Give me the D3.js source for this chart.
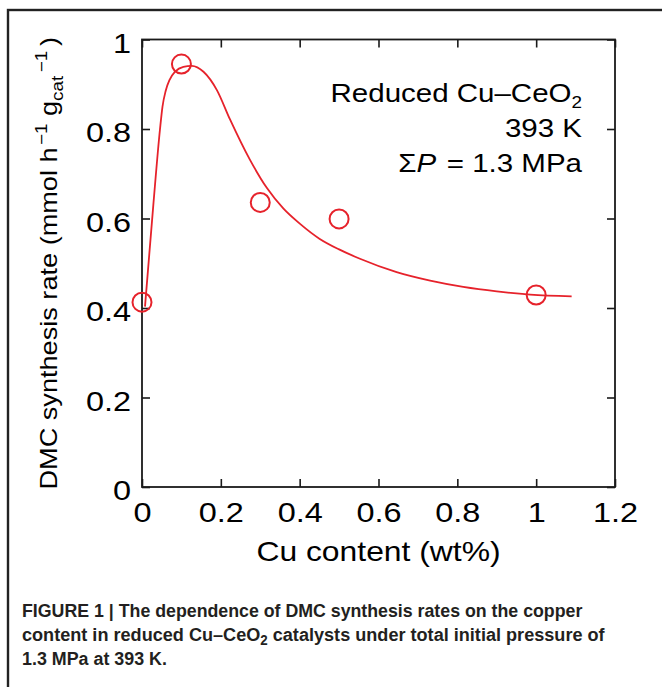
<!DOCTYPE html>
<html><head><meta charset="utf-8">
<script src="https://cdn.jsdelivr.net/npm/d3@7"></script>
<style>
html,body{margin:0;padding:0;background:#fff;}
svg{display:block;}
text{font-family:"Liberation Sans",Arial,Helvetica,sans-serif;}
</style></head>
<body>
<svg id="chart" width="662" height="687"></svg>
<script>
// ---- data ----
const xTicks = [0, 0.2, 0.4, 0.6, 0.8, 1, 1.2];
const xTickLabels = ["0", "0.2", "0.4", "0.6", "0.8", "1", "1.2"];
const yTicks = [0, 0.2, 0.4, 0.6, 0.8, 1];
const yTickLabels = ["0", "0.2", "0.4", "0.6", "0.8", "1"];
const cuContent = [0, 0.1, 0.3, 0.5, 1.0];
const dmcRate = [0.413, 0.945, 0.636, 0.599, 0.429];
const fitCu = [0.0076, 0.0287, 0.0457, 0.052, 0.06, 0.07, 0.084, 0.105, 0.126, 0.156, 0.19, 0.223, 0.274, 0.317, 0.359, 0.401, 0.45, 0.5, 0.553, 0.646, 0.731, 0.815, 0.9, 0.985, 1.09];
const fitRate = [0.403, 0.630, 0.800, 0.850, 0.885, 0.910, 0.928, 0.939, 0.941, 0.928, 0.887, 0.822, 0.731, 0.668, 0.622, 0.588, 0.555, 0.531, 0.510, 0.480, 0.461, 0.447, 0.437, 0.430, 0.426];
const annotation = ["Reduced Cu–CeO", "393 K", "= 1.3 MPa"];
const captionLines = [
  "FIGURE 1 | The dependence of DMC synthesis rates on the copper",
  ["content in reduced Cu–CeO", "2", " catalysts under total initial pressure of"],
  "1.3 MPa at 393 K."
];

const RED = "#e6222b";
const INK = "#1a1a1a";
const SX = 1.18; // horizontal stretch of the original lettering

const svg = d3.select("#chart");

// outer frame (cropped at right and bottom)
svg.append("rect").attr("x", 8).attr("y", 10).attr("width", 720).attr("height", 720)
  .attr("fill", "none").attr("stroke", "#222").attr("stroke-width", 2.4);

const x = d3.scaleLinear().domain([0, 1.2]).range([142, 615]);
const y = d3.scaleLinear().domain([0, 1]).range([487, 39.5]);

const tick = 8;
// axes
const gB = svg.append("g").attr("transform", `translate(0,${y(0)})`)
  .call(d3.axisBottom(x).tickValues(xTicks).tickFormat((d, i) => xTickLabels[i]).tickSizeInner(-tick).tickSizeOuter(0));
const gT = svg.append("g").attr("transform", `translate(0,${y(1)})`)
  .call(d3.axisTop(x).tickValues(xTicks).tickFormat("").tickSizeInner(-tick).tickSizeOuter(0));
const gL = svg.append("g").attr("transform", `translate(${x(0)},0)`)
  .call(d3.axisLeft(y).tickValues(yTicks).tickFormat((d, i) => yTickLabels[i]).tickSizeInner(-tick).tickSizeOuter(0));
const gR = svg.append("g").attr("transform", `translate(${x(1.2)},0)`)
  .call(d3.axisRight(y).tickValues(yTicks).tickFormat("").tickSizeInner(-tick).tickSizeOuter(0));

[gB, gT, gL, gR].forEach(g => {
  g.select(".domain").remove();
  g.selectAll(".tick line").attr("stroke", INK).attr("stroke-width", 1.6);
});
gB.selectAll(".tick text")
  .attr("font-size", 27.5).attr("fill", "#000").attr("font-family", "'Liberation Sans',Arial,sans-serif")
  .attr("y", 35).attr("dy", 0).attr("text-anchor", "middle")
  .attr("transform", `scale(${SX},1)`);
gL.selectAll(".tick text")
  .attr("font-size", 27.5).attr("fill", "#000").attr("font-family", "'Liberation Sans',Arial,sans-serif")
  .attr("x", -11 / SX).attr("dy", 0).attr("y", 12.5).attr("text-anchor", "end")
  .attr("transform", `scale(${SX},1)`);
gT.selectAll(".tick text").remove();
gR.selectAll(".tick text").remove();

// plot box
svg.append("rect").attr("x", x(0)).attr("y", y(1))
  .attr("width", x(1.2) - x(0)).attr("height", y(0) - y(1))
  .attr("fill", "none").attr("stroke", INK).attr("stroke-width", 1.8);

// fitted curve
const fit = fitCu.map((c, i) => [c, fitRate[i]]);
svg.append("path").datum(fit)
  .attr("d", d3.line().x(d => x(d[0])).y(d => y(d[1])).curve(d3.curveMonotoneX))
  .attr("fill", "none").attr("stroke", RED).attr("stroke-width", 1.8);

// data points
svg.selectAll("circle.pt").data(cuContent.map((c, i) => [c, dmcRate[i]])).join("circle")
  .attr("class", "pt").attr("cx", d => x(d[0])).attr("cy", d => y(d[1])).attr("r", 9.5)
  .attr("fill", "none").attr("stroke", RED).attr("stroke-width", 2);

// axis titles
const xt = svg.append("g").attr("transform", `translate(${(x(0) + x(1.2)) / 2},561) scale(${SX},1)`);
xt.append("text").attr("text-anchor", "middle").attr("font-size", 27).attr("fill", "#000")
  .text("Cu content (wt%)");

const yt = svg.append("g").attr("transform", `translate(57,${(y(0) + y(1)) / 2}) rotate(-90) scale(${SX},1)`);
const ytt = yt.append("text").attr("text-anchor", "middle").attr("font-size", 23).attr("fill", "#000");
ytt.append("tspan").text("DMC synthesis rate (mmol h");
ytt.append("tspan").attr("font-size", 16).attr("dy", -10).attr("dx", 2).text("−1");
ytt.append("tspan").attr("dy", 10).text(" g");
ytt.append("tspan").attr("font-size", 16).attr("dy", 6).text("cat");
ytt.append("tspan").attr("font-size", 16).attr("dy", -16).attr("dx", 3).text("−1");
ytt.append("tspan").attr("dy", 10).attr("dx", 4).text(")");

// annotation
const ann = [102, 137, 172];
const AF = 25;
const a1 = svg.append("g").attr("transform", `translate(582,${ann[0]}) scale(${SX},1)`)
  .append("text").attr("text-anchor", "end").attr("font-size", AF).attr("fill", "#000");
a1.append("tspan").text(annotation[0]);
a1.append("tspan").attr("font-size", 16).attr("dy", 6).text("2");
svg.append("g").attr("transform", `translate(582,${ann[1]}) scale(${SX},1)`)
  .append("text").attr("text-anchor", "end").attr("font-size", AF).attr("fill", "#000").text(annotation[1]);
const a3 = svg.append("g").attr("transform", `translate(582,${ann[2]}) scale(${SX},1)`)
  .append("text").attr("text-anchor", "end").attr("font-size", AF).attr("fill", "#000");
a3.append("tspan").text("Σ");
a3.append("tspan").attr("font-style", "italic").text("P");
a3.append("tspan").attr("dx", 2).text(" " + annotation[2]);

// caption: each line is scaled horizontally to the width it has in the reference
const capY = [617, 641, 665];
const capW = [561, 583, 145];
const capFont = "'Liberation Sans Narrow','Liberation Sans',Arial,sans-serif";
captionLines.forEach((ln, i) => {
  const g = svg.append("g").attr("transform", `translate(22,${capY[i]})`);
  const t = g.append("text").attr("x", 0).attr("y", 0)
    .attr("font-size", 19).attr("font-weight", "bold").attr("fill", "#231f20")
    .attr("font-family", capFont);
  if (Array.isArray(ln)) {
    t.append("tspan").text(ln[0]);
    t.append("tspan").attr("font-size", 14).attr("dy", 4).text(ln[1]);
    t.append("tspan").attr("dy", -4).text(ln[2]);
  } else {
    t.text(ln);
  }
  const w = t.node().getComputedTextLength();
  if (w > 0) g.attr("transform", `translate(22,${capY[i]}) scale(${capW[i] / w},1)`);
});
</script>
</body></html>
